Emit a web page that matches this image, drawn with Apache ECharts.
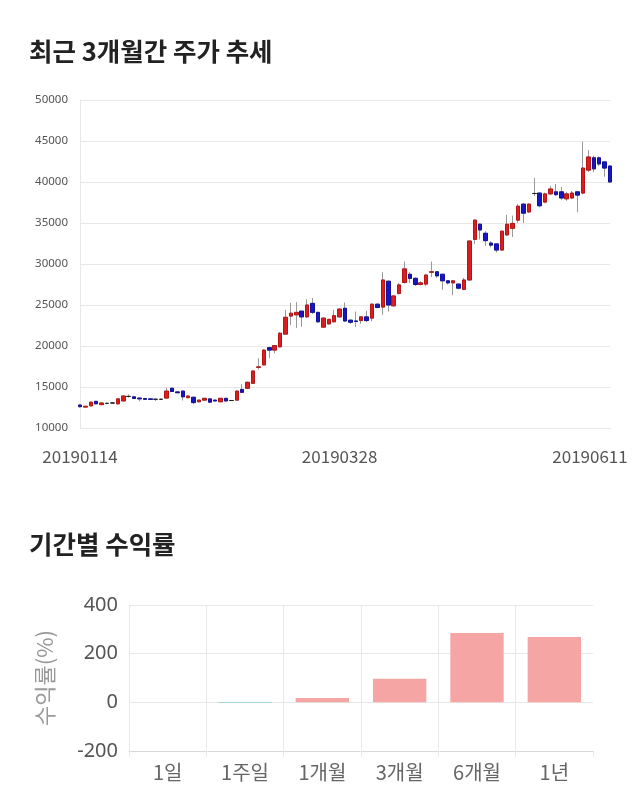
<!DOCTYPE html>
<html>
<head>
<meta charset="utf-8">
<script src="https://cdn.jsdelivr.net/npm/echarts@6/dist/echarts.min.js"></script>
<style>
html,body{margin:0;padding:0;background:#fff;}
#chart{width:640px;height:810px;}
</style>
</head>
<body>
<div id="chart"></div>
<script>
var dates = ['20190114','20190115','20190116','20190117','20190118','20190121','20190122','20190123','20190124','20190125','20190128','20190129','20190130','20190131',
'20190207','20190208','20190211','20190212','20190213','20190214','20190215','20190218','20190219','20190220','20190221','20190222','20190225','20190226','20190227','20190228',
'20190304','20190305','20190306','20190307','20190308','20190311','20190312','20190313','20190314','20190315','20190318','20190319','20190320','20190321','20190322','20190325','20190326','20190327','20190328','20190329',
'20190401','20190402','20190403','20190404','20190405','20190408','20190409','20190410','20190411','20190412','20190415','20190416','20190417','20190418','20190419','20190422','20190423','20190424','20190425','20190426','20190429','20190430',
'20190502','20190503','20190507','20190508','20190509','20190510','20190513','20190514','20190515','20190516','20190517','20190520','20190521','20190522','20190523','20190524','20190527','20190528','20190529','20190530','20190531',
'20190603','20190604','20190605','20190607','20190610','20190611'];

var openPrices = [12800,12550,12700,13250,12850,13000,13050,12950,13300,13850,13800,13650,13600,13550,13500,13500,13650,14850,14400,14500,
13700,13750,13200,13400,13550,13400,13200,13620,13350,13400,14700,14850,15450,17400,17700,19800,19500,19900,21450,23650,
23800,24250,23550,25200,24100,22300,22700,22950,23550,24600,23150,23050,23100,23550,23400,25100,24750,27900,24900,26400,
27750,28750,28250,27500,27550,29000,29050,28750,27950,27700,27550,26900,28050,33000,34850,33750,32550,32450,31700,33550,
34350,35350,37300,36350,38600,38650,37550,38550,38800,38800,37950,38050,38800,38650,41450,42950,42950,42450,41950];
var closePrices = [12600,12650,13150,12950,13050,13000,13050,13550,13900,13850,13600,13550,13500,13500,13500,13500,14500,14450,14300,13800,
13900,13100,13400,13620,13150,13300,13620,13300,13350,14500,14350,15570,16950,17450,19500,19500,20050,21550,23500,24000,
24100,23550,25000,24100,22950,23400,23250,23700,24500,23050,22900,23000,23550,23100,25100,24700,28050,25000,26100,27450,
29400,28250,27500,27700,28650,29050,28550,27950,27700,27950,27050,28050,32800,35350,34150,32850,32300,31700,34000,34850,
34950,37050,36200,37300,38600,37100,38550,39150,38450,38050,38550,38650,38400,41700,43050,41600,42200,41700,40000];
var lowPrices = [12500,12500,12650,12900,12800,12950,12950,12850,13250,13700,13550,13250,13450,13450,13300,13450,13600,14400,14250,13350,
13650,12900,13100,13350,13100,13250,13150,13250,13300,13300,14300,14800,15400,17100,17600,18500,19100,19800,21400,22550,
22200,22350,23400,23900,22800,22200,22600,22900,23450,23000,22700,22350,22700,22900,23000,24600,23800,24200,24800,26300,
27600,27700,27300,27400,27300,28400,28300,26850,27500,26200,26900,26800,28000,32450,33000,32200,32000,31400,31600,33400,
33300,35000,35000,36200,38300,36900,37400,38400,38300,37800,37700,37900,36300,38500,41200,41200,41950,40650,39900];
var highPrices = [12850,12700,13200,13300,13100,13100,13150,13600,14000,14100,13850,13700,13650,13600,13550,13550,14900,14900,14450,14550,
13950,13800,13450,13650,13600,13450,13650,13650,13400,14600,15350,15700,17000,18500,19600,19900,20100,21700,24400,25250,
25350,24300,25700,25850,24200,23500,23300,24400,24600,25300,23200,24200,23600,24300,25200,25200,29000,28000,26200,27700,
30300,29000,28400,27900,28800,30300,29100,28800,28000,28000,27600,28300,32900,35450,35000,34000,32800,32500,34100,36000,
35900,37300,37400,37400,40500,38700,38700,39500,39750,39400,38800,38900,38850,44900,43900,43200,43100,42500,42000];
var priceTickLabels = ['10000','15000','20000','25000','30000','35000','40000','45000','50000'];
var dateLabels = ['20190114', '20190328', '20190611'];

var periods = ['1일','1주일','1개월','3개월','6개월','1년'];
var returnValues = [0, -3, 18, 97, 285, 268];

var wickData = [], bodyData = [];
for (var i = 0; i < dates.length; i++) {
  wickData.push([openPrices[i], closePrices[i], lowPrices[i], highPrices[i]]);
  bodyData.push([openPrices[i], closePrices[i], Math.min(openPrices[i], closePrices[i]), Math.max(openPrices[i], closePrices[i])]);
}
var lastLabel = dateLabels[dateLabels.length - 1];
var xCats = dates.map(function (d) {
  if (d === lastLabel) return {value: d, textStyle: {padding: [0, 40, 0, 0]}};
  return d;
});

var chart = echarts.init(document.getElementById('chart'), null, {renderer: 'canvas'});
var grey = '#e8e8e8';
var option = {
  animation: false,
  backgroundColor: '#fff',
  title: [
    {text: '최근 3개월간 주가 추세', left: 24, top: 34,
     textStyle: {fontFamily: 'Noto Sans CJK KR', fontSize: 25.5, fontWeight: 'bold', color: '#222'}},
    {text: '기간별 수익률', left: 24, top: 527,
     textStyle: {fontFamily: 'Noto Sans CJK KR', fontSize: 25.5, fontWeight: 'bold', color: '#222'}}
  ],
  grid: [
    {left: 80, right: 30, top: 100, bottom: 382, containLabel: false},
    {left: 129, right: 47, top: 605, bottom: 59, containLabel: false}
  ],
  xAxis: [
    {type: 'category', gridIndex: 0, data: xCats, boundaryGap: false,
     axisLine: {show: true, lineStyle: {color: grey}},
     axisTick: {show: false},
     splitLine: {show: false},
     axisLabel: {
       interval: function (idx, val) { return dateLabels.indexOf(val) >= 0; },
       margin: 20, fontSize: 17, color: '#555', fontFamily: 'Noto Sans CJK KR'
     }},
    {type: 'category', gridIndex: 1, data: periods, boundaryGap: true,
     axisLine: {show: true, onZero: false, lineStyle: {color: '#d8d8d8'}},
     axisTick: {show: true, length: 6, lineStyle: {color: grey}},
     splitLine: {show: true, showMaxLine: false, lineStyle: {color: grey}},
     axisLabel: {margin: 11, fontSize: 20, color: '#666', fontFamily: 'Noto Sans CJK KR'}}
  ],
  yAxis: [
    {type: 'value', gridIndex: 0, min: 10000, max: 50000, interval: 5000,
     axisLine: {show: true, lineStyle: {color: grey}},
     axisTick: {show: false},
     splitLine: {show: true, lineStyle: {color: grey}},
     axisLabel: {margin: 12, fontSize: 11.5, color: '#555', fontFamily: 'Noto Sans',
       formatter: function (v) { var s = String(v); return priceTickLabels.indexOf(s) >= 0 ? s : ''; }}},
    {type: 'value', gridIndex: 1, min: -200, max: 400, interval: 200,
     name: '수익률(%)', nameLocation: 'middle', nameGap: 73, nameRotate: 90,
     nameTextStyle: {fontSize: 22, color: '#999', fontFamily: 'Noto Sans CJK KR'},
     axisLine: {show: false},
     axisTick: {show: false},
     splitLine: {show: true, lineStyle: {color: grey}},
     axisLabel: {margin: 11, fontSize: 20, color: '#555', fontFamily: 'Noto Sans'}}
  ],
  series: [
    {type: 'candlestick', xAxisIndex: 0, yAxisIndex: 0, data: wickData, barWidth: 4,
     itemStyle: {color: 'rgba(0,0,0,0)', color0: 'rgba(0,0,0,0)', borderColor: '#999', borderColor0: '#999', borderColorDoji: '#999', borderWidth: 1}},
    {type: 'candlestick', xAxisIndex: 0, yAxisIndex: 0, data: bodyData, barWidth: 4,
     itemStyle: {color: '#d81e1e', color0: '#1616c4', borderColor: '#b51515', borderColor0: '#10109a', borderColorDoji: '#222', borderWidth: 1}},
    {type: 'bar', xAxisIndex: 1, yAxisIndex: 1, data: returnValues, barWidth: '69%',
     itemStyle: {color: function (p) { return p.value >= 0 ? '#f6a5a5' : '#8fcfc4'; }}}
  ]
};
chart.setOption(option);
</script>
</body>
</html>
